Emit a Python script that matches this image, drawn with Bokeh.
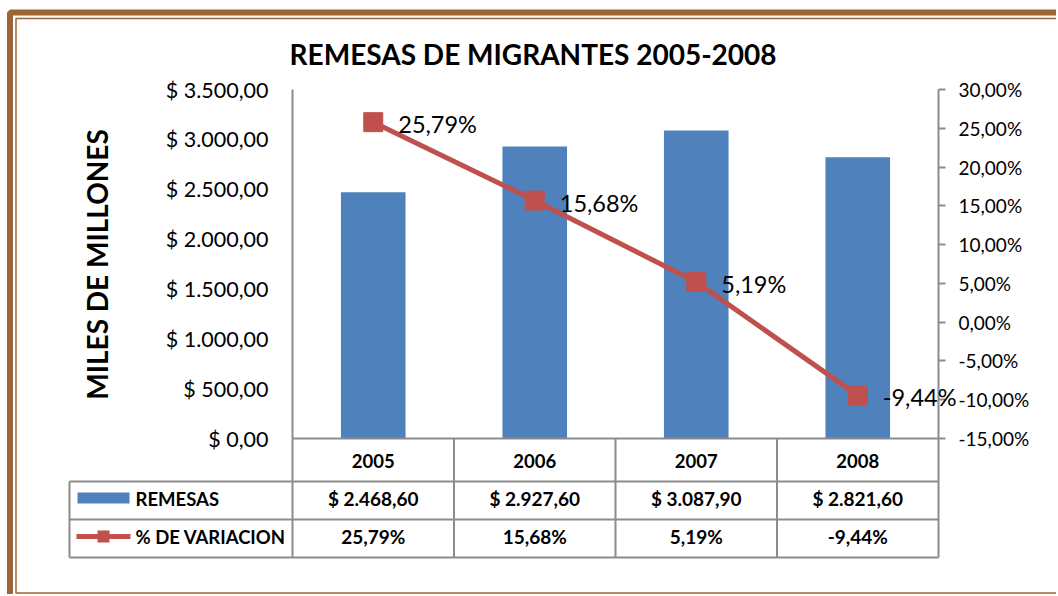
from bokeh.plotting import figure
from bokeh.models import (Range1d, LinearAxis, Label, LabelSet,
                          BoxAnnotation, FixedTicker, ColumnDataSource)
from bokeh.core.properties import value
from bokeh.embed import file_html
from bokeh.resources import INLINE

# ---------------- data ----------------
years = ["2005", "2006", "2007", "2008"]
remesas = [2468.60, 2927.60, 3087.90, 2821.60]
variacion = [25.79, 15.68, 5.19, -9.44]
remesas_labels = ["$ 2.468,60", "$ 2.927,60", "$ 3.087,90", "$ 2.821,60"]
variacion_labels = ["25,79%", "15,68%", "5,19%", "-9,44%"]
money_ticks = [0, 500, 1000, 1500, 2000, 2500, 3000, 3500]
money_tick_labels = ["$ 0,00", "$ 500,00", "$ 1.000,00", "$ 1.500,00",
                     "$ 2.000,00", "$ 2.500,00", "$ 3.000,00", "$ 3.500,00"]
pct_ticks = [-15, -10, -5, 0, 5, 10, 15, 20, 25, 30]
pct_tick_labels = ["-15,00%", "-10,00%", "-5,00%", "0,00%", "5,00%",
                   "10,00%", "15,00%", "20,00%", "25,00%", "30,00%"]
series_names = ["REMESAS", "% DE VARIACION"]
title_text = "REMESAS  DE MIGRANTES 2005-2008"
y_title = "MILES DE MILLONES"

# ---------------- style / layout ----------------
FONT = "Lato"
BAR = "#4F81BD"
LINE = "#C0504D"
GRID = "#8C8C8C"
BROWN = "#9C6634"

W, H = 1056, 594
# plot area in canvas pixels (the frame covers the whole canvas)
PL, PR, PT, PB = 292, 938, 89, 438
n = len(years)
xs = [i + 0.5 for i in range(n)]               # category centres

ux = (PR - PL) / n
x_range = Range1d(-PL / ux, n + (W - PR) / ux)
km = (money_ticks[-1] - money_ticks[0]) / (PB - PT)
y_range = Range1d(money_ticks[0] - (H - PB) * km, money_ticks[-1] + PT * km)
kp = (pct_ticks[-1] - pct_ticks[0]) / (PB - PT)
pct_range = Range1d(pct_ticks[0] - (H - PB) * kp, pct_ticks[-1] + PT * kp)

p = figure(width=W, height=H, x_range=x_range, y_range=y_range,
           output_backend="svg", toolbar_location=None, title=None,
           x_axis_location=None, y_axis_location=None, min_border=0,
           outline_line_color=None, background_fill_color="white",
           border_fill_color="white")
p.extra_y_ranges = {"pct": pct_range}
p.xgrid.visible = False
p.ygrid.visible = False


def sy(Y):
    """canvas-top-based pixel row -> screen units (from bottom)"""
    return H - Y


# bars & line
p.vbar(x=xs, top=remesas, width=0.4, fill_color=BAR, line_color=None)
p.line(x=xs, y=variacion, y_range_name="pct", line_color=LINE, line_width=5)
p.scatter(x=xs, y=variacion, y_range_name="pct", marker="square", size=19,
          fill_color=LINE, line_color=LINE)

src = ColumnDataSource(dict(x=xs, y=variacion, t=variacion_labels))
p.add_layout(LabelSet(x="x", y="y", text="t", source=src, y_range_name="pct",
                      x_offset=25, y_offset=-2, text_baseline="middle",
                      text_align="left", text_font=value(FONT),
                      text_font_size="23.5px", text_color="black"))

# left axis
ya = LinearAxis(fixed_location=0, bounds=(money_ticks[0], money_ticks[-1]),
                ticker=FixedTicker(ticks=money_ticks),
                major_label_overrides=dict(zip(money_ticks, money_tick_labels)))
ya.major_tick_out = 0
ya.major_tick_in = 0
ya.minor_tick_out = 0
ya.minor_tick_in = 0
ya.axis_line_color = GRID
ya.axis_line_width = 2
ya.major_label_standoff = 24
ya.major_label_text_font = FONT
ya.major_label_text_font_size = "21.5px"
ya.major_label_text_color = "black"
p.add_layout(ya, "left")

# right axis
ra = LinearAxis(y_range_name="pct", fixed_location=n,
                bounds=(pct_ticks[0], pct_ticks[-1]),
                ticker=FixedTicker(ticks=pct_ticks),
                major_label_overrides=dict(zip(pct_ticks, pct_tick_labels)))
ra.major_tick_out = 7
ra.major_tick_in = 0
ra.minor_tick_out = 0
ra.minor_tick_in = 0
ra.axis_line_color = GRID
ra.axis_line_width = 2
ra.major_tick_line_color = GRID
ra.major_tick_line_width = 2
ra.major_label_standoff = 13
ra.major_label_text_font = FONT
ra.major_label_text_font_size = "19px"
ra.major_label_text_color = "black"
p.add_layout(ra, "right")

# bottom axis = table header (years)
xa = LinearAxis(fixed_location=0, bounds=(0, n), ticker=FixedTicker(ticks=xs),
                major_label_overrides=dict(zip(xs, years)))
xa.major_tick_out = 0
xa.major_tick_in = 0
xa.minor_tick_out = 0
xa.minor_tick_in = 0
xa.axis_line_color = GRID
xa.axis_line_width = 2
xa.major_label_standoff = 15
xa.major_label_text_font = FONT
xa.major_label_text_font_size = "18.5px"
xa.major_label_text_font_style = "bold"
xa.major_label_text_color = "black"
p.add_layout(xa, "below")

# ---------------- data table below the chart ----------------
ROW_LINES = [481, 519, 557]    # pixel rows of the table's horizontal rules
ROW_C = [498, 536]             # centres of the two data rows
LEG_L = 69                     # left edge of the legend column


def rule(left, right, top, bottom, lu="screen", ru="screen"):
    return BoxAnnotation(left=left, right=right, top=top, bottom=bottom,
                         left_units=lu, right_units=ru,
                         top_units="screen", bottom_units="screen",
                         fill_alpha=0.0, line_color=GRID, line_width=2,
                         line_alpha=1.0)


for Y in ROW_LINES:
    p.add_layout(rule(LEG_L, n, sy(Y), sy(Y), ru="data"))
p.add_layout(rule(LEG_L, LEG_L, sy(ROW_LINES[0]), sy(ROW_LINES[-1])))
for k in range(n + 1):
    p.add_layout(rule(k, k, sy(PB), sy(ROW_LINES[-1]), lu="data", ru="data"))

for txt, Y in zip([remesas_labels, variacion_labels], ROW_C):
    s = ColumnDataSource(dict(x=xs, t=txt))
    p.add_layout(LabelSet(x="x", y=sy(Y), y_units="screen", text="t", source=s,
                          text_align="center", text_baseline="middle",
                          text_font=value(FONT), text_font_size="19px",
                          text_font_style="bold", text_color="black"))


def solid(l, r, t, b, color):
    return BoxAnnotation(left=l, right=r, top=sy(t), bottom=sy(b),
                         left_units="screen", right_units="screen",
                         top_units="screen", bottom_units="screen",
                         fill_color=color, fill_alpha=1.0, line_alpha=0.0)


# legend keys
p.add_layout(solid(77, 129, 492, 503, BAR))
p.add_layout(solid(76, 130, 533.5, 538.5, LINE))
p.add_layout(solid(97, 109, 530, 542, LINE))
for name, Y in zip(series_names, ROW_C):
    p.add_layout(Label(x=135, y=sy(Y), x_units="screen", y_units="screen",
                       text=name, text_align="left", text_baseline="middle",
                       text_font=FONT, text_font_size="18.5px",
                       text_font_style="bold", text_color="black"))

# titles
p.add_layout(Label(x=536, y=sy(53), x_units="screen", y_units="screen",
                   text=title_text, text_align="center", text_baseline="middle",
                   text_font=FONT, text_font_size="28px", text_font_style="bold",
                   text_color="black"))
p.add_layout(Label(x=96, y=sy(264), x_units="screen", y_units="screen",
                   text=y_title, angle=90, angle_units="deg",
                   text_align="center", text_baseline="middle",
                   text_font=FONT, text_font_size="28px", text_font_style="bold",
                   text_color="black"))

# frame border (brown thick + thin double line)
p.add_layout(BoxAnnotation(left=9.5, right=W + 20, top=sy(12), bottom=sy(H + 20),
                           left_units="screen", right_units="screen",
                           top_units="screen", bottom_units="screen",
                           fill_alpha=0.0, line_color=BROWN, line_width=6,
                           line_alpha=1.0))
p.add_layout(BoxAnnotation(left=15.5, right=W + 20, top=sy(18), bottom=sy(592.5),
                           left_units="screen", right_units="screen",
                           top_units="screen", bottom_units="screen",
                           fill_alpha=0.0, line_color=BROWN, line_width=1.5,
                           line_alpha=1.0))

open("out.html", "w").write(file_html(p, INLINE))
